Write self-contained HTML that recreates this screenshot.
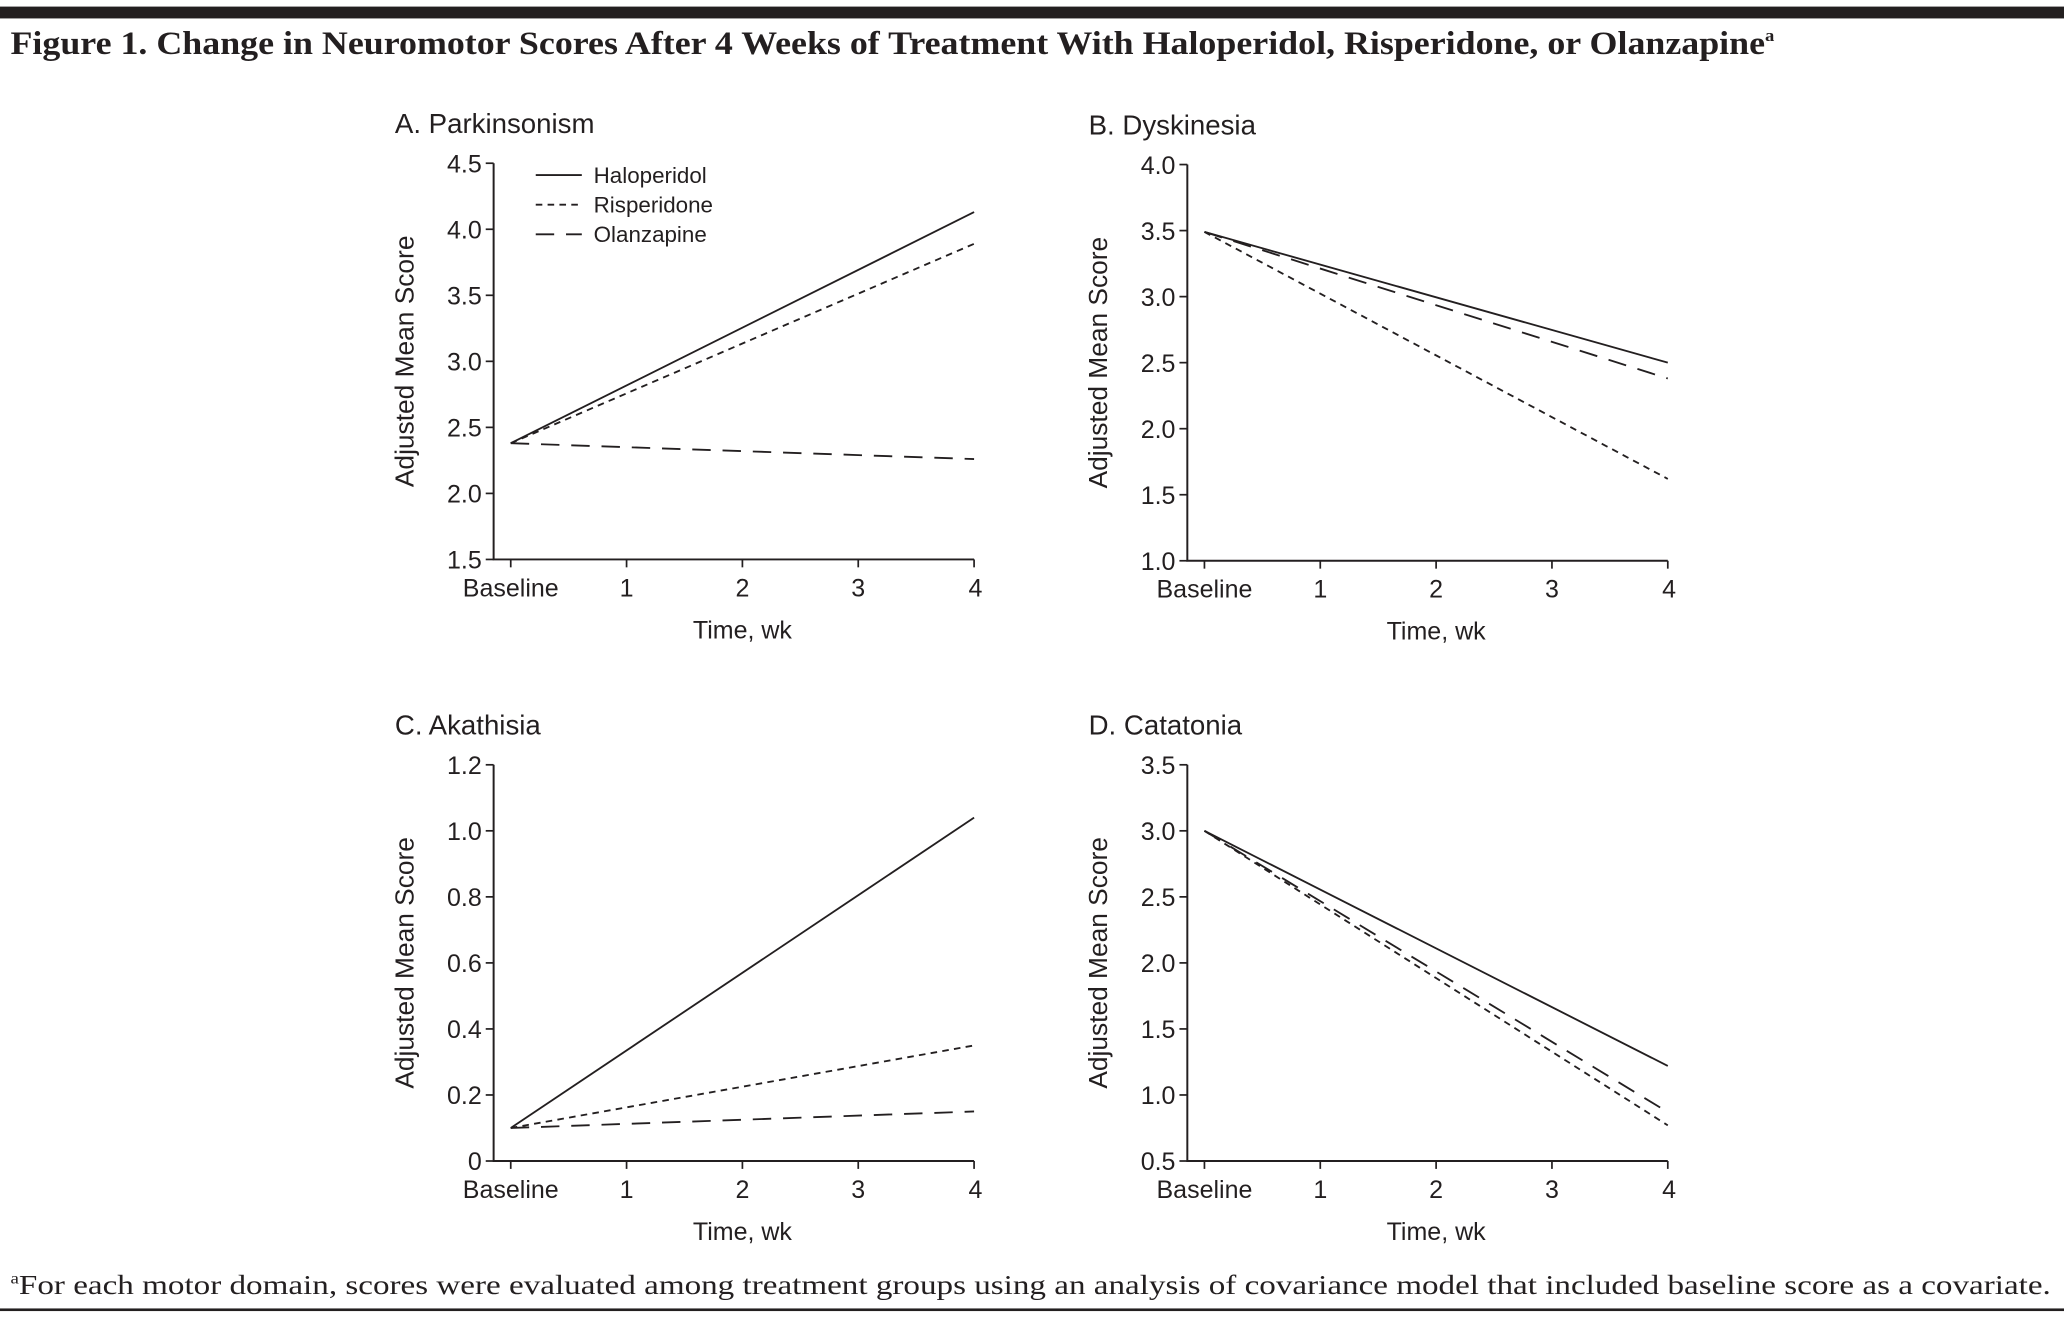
<!DOCTYPE html>
<html><head><meta charset="utf-8"><style>
html,body{margin:0;padding:0;background:#fff;}
svg{display:block;}
text{font-family:"Liberation Sans",sans-serif;fill:#231f20;}
</style></head><body>
<svg id="fig" width="2064" height="1317" viewBox="0 0 1568 1000.5" xmlns="http://www.w3.org/2000/svg">
<rect x="0" y="5" width="1568" height="9" fill="#231f20"/>
<text x="8" y="41" style="font-family:'Liberation Serif',serif" font-size="25" font-weight="bold" textLength="1340" lengthAdjust="spacingAndGlyphs">Figure 1. Change in Neuromotor Scores After 4 Weeks of Treatment With Haloperidol, Risperidone, or Olanzapine<tspan font-size="13" dy="-10">a</tspan></text>
<text x="8" y="983" style="font-family:'Liberation Serif',serif" font-size="21" textLength="1550" lengthAdjust="spacingAndGlyphs"><tspan font-size="12" dy="-8">a</tspan><tspan dy="8">For each motor domain, scores were evaluated among treatment groups using an analysis of covariance model that included baseline score as a covariate.</tspan></text>
<rect x="0" y="994" width="1568" height="2" fill="#231f20"/>
<g id="charts"></g>
</svg>
<script>
const xCategories = ['Baseline','1','2','3','4'];
const xWeeks = [0, 4];
const seriesNames = ['Haloperidol','Risperidone','Olanzapine'];
const parkHal = [2.38, 4.13];
const parkRis = [2.38, 3.89];
const parkOlz = [2.38, 2.26];
const dyskHal = [3.49, 2.50];
const dyskRis = [3.49, 1.62];
const dyskOlz = [3.49, 2.38];
const akatHal = [0.10, 1.04];
const akatRis = [0.10, 0.35];
const akatOlz = [0.10, 0.15];
const cataHal = [3.00, 1.22];
const cataRis = [3.00, 0.77];
const cataOlz = [3.00, 0.87];
const parkTicks = ['1.5','2.0','2.5','3.0','3.5','4.0','4.5'];
const dyskTicks = ['1.0','1.5','2.0','2.5','3.0','3.5','4.0'];
const akatTicks = ['0','0.2','0.4','0.6','0.8','1.0','1.2'];
const cataTicks = ['0.5','1.0','1.5','2.0','2.5','3.0','3.5'];

const NS='http://www.w3.org/2000/svg';
const root=document.getElementById('charts');
function el(tag,attrs,parent){const e=document.createElementNS(NS,tag);for(const k in attrs)e.setAttribute(k,attrs[k]);(parent||root).appendChild(e);return e;}
const dashes=['none','5,4','14,9'];

function panel(key,title,ox,oy,ticks,series,legend){
  const g=el('g',{});
  
  
  const axX=ox, top=oy, bot=oy+301, x0=ox+13, x1=ox+365;
  const tv=ticks.map(Number), ymin=tv[0], ymax=tv[tv.length-1];
  const ys=v=>bot-(v-ymin)/(ymax-ymin)*(bot-top);
  const xs=v=>x0+v/4*(x1-x0);
  const t=el('text',{x:ox-75,y:oy-23,'font-size':21},g);t.textContent=title;
  
  
  const ax=el('path',{d:`M${axX},${top}V${bot}H${x1}`,stroke:'#231f20','stroke-width':1.5,fill:'none'},g);
  
  
  ticks.forEach((lab,i)=>{
    const y=ys(tv[i]);
    el('line',{x1:axX-6,x2:axX,y1:y,y2:y,stroke:'#231f20','stroke-width':1.3},g);
    const tt=el('text',{x:axX-9,y:y+7,'font-size':19,'text-anchor':'end'},g);tt.textContent=lab;
    
    
  });
  xCategories.forEach((lab,i)=>{
    const x=xs(i);
    el('line',{x1:x,x2:x,y1:bot,y2:bot+6,stroke:'#231f20','stroke-width':1.3},g);
    const tt=el('text',{x:x+(i==4?1:0),y:bot+28,'font-size':19,'text-anchor':'middle'},g);tt.textContent=lab;
    
    
  });
  const xl=el('text',{x:(x0+x1)/2,y:bot+60,'font-size':19,'text-anchor':'middle'},g);xl.textContent='Time, wk';
  
  
  const yl=el('text',{transform:`translate(${ox-61},${(top+bot)/2}) rotate(-90)`,'font-size':20,'text-anchor':'middle'},g);yl.textContent='Adjusted Mean Score';
  
  
  series.forEach((s,i)=>{
    const ln=el('line',{x1:xs(xWeeks[0]),y1:ys(s[0]),x2:xs(xWeeks[1]),y2:ys(s[1]),stroke:'#231f20','stroke-width':1.4,'stroke-dasharray':dashes[i]},g);
    
    
  });
  if(legend){
    seriesNames.forEach((n,i)=>{
      const y=top+9+i*22.5;
      const ll=el('line',{x1:axX+32,x2:axX+67,y1:y,y2:y,stroke:'#231f20','stroke-width':1.4,'stroke-dasharray':dashes[i]},g);
      
      
      const lt=el('text',{x:axX+76,y:y+6,'font-size':17},g);lt.textContent=n;
      
      
    });
  }
}
panel('parkinsonism','A. Parkinsonism',375,124,parkTicks,[parkHal,parkRis,parkOlz],true);
panel('dyskinesia','B. Dyskinesia',902,125,dyskTicks,[dyskHal,dyskRis,dyskOlz],false);
panel('akathisia','C. Akathisia',375,581,akatTicks,[akatHal,akatRis,akatOlz],false);
panel('catatonia','D. Catatonia',902,581,cataTicks,[cataHal,cataRis,cataOlz],false);
</script>
</body></html>
